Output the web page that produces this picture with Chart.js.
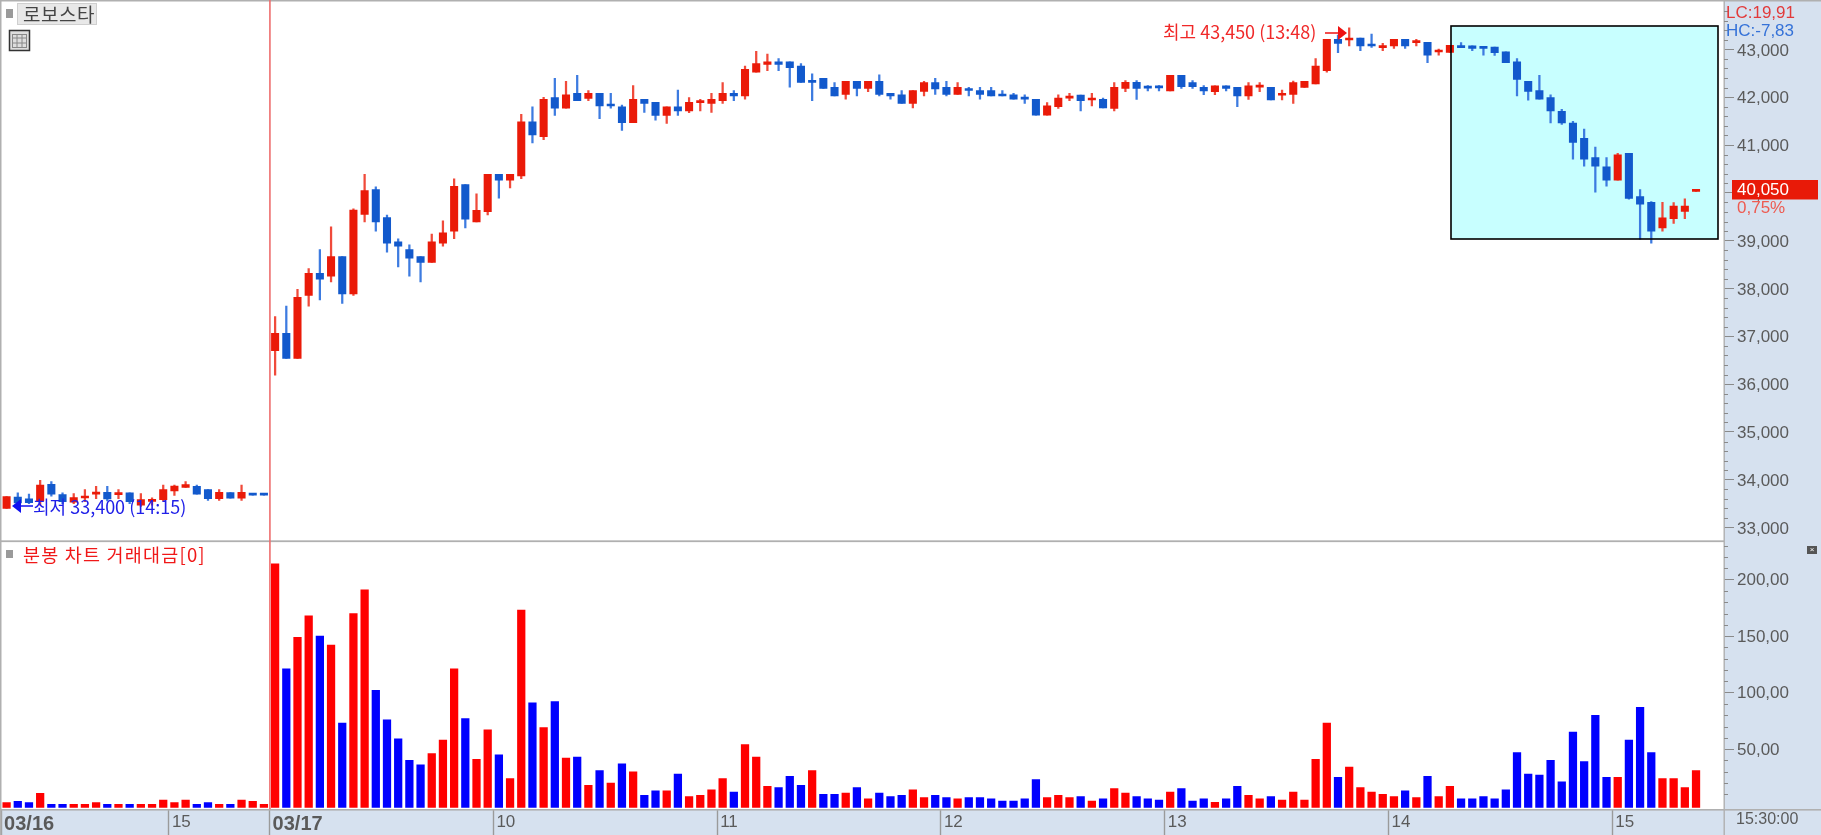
<!DOCTYPE html>
<html><head><meta charset="utf-8">
<style>html,body{margin:0;padding:0;background:#fff;overflow:hidden}canvas{display:block}</style>
<script src="https://cdn.jsdelivr.net/npm/chart.js@4"></script>
</head><body><canvas id="c" width="1821" height="835"></canvas>
<script>
const opens=[33400,33640,33600,33560,33905,33690,33530,33620,33700,33740,33690,33725,33470,33550,33585,33765,33840,33865,33795,33605,33730,33615,33690,33690,
36700,37060,36540,37855,38315,38260,38665,37885,39550,40070,39480,38975,38815,38665,38545,38950,39200,40170,39390,39605,40385,40265,40355,41485,41175,41990,41770,42080,41975,42080,41825,41800,41465,41955,41890,41620,41800,41710,41885,41870,41925,42080,42025,42525,42685,42740,42740,42650,42330,42395,42205,42060,42330,42185,42330,42080,42050,41870,42120,42305,42205,42060,42150,42140,42140,42050,42050,41970,41955,41625,41800,41980,42045,41940,41955,41765,42185,42310,42200,42200,42130,42455,42305,42205,42115,42235,42205,42025,42210,42205,42040,42060,42205,42275,42555,43210,43195,43235,43090,43035,43070,43210,43140,43145,42945,42935,43075,43075,43050,43050,42950,42740,42330,42140,41990,41705,41460,41140,40735,40545,40265,40825,39920,39800,39265,39460,39610,40030];
const closes=[33650,33515,33520,33890,33700,33540,33630,33650,33715,33600,33700,33540,33585,33560,33795,33870,33900,33700,33605,33740,33615,33740,33680,33680,
37060,36540,37815,38315,38195,38665,37885,39640,40045,39390,38950,38885,38635,38545,38975,39165,40135,39450,39635,40385,40265,40385,41485,41210,41955,41770,42050,41925,42080,41815,41815,41465,41955,41870,41620,41800,41710,41890,41905,41955,42080,42025,42580,42705,42740,42685,42615,42310,42310,42185,42025,42330,42185,42330,42060,42025,41870,42140,42305,42175,42060,42205,42140,42060,42025,42025,41960,41960,41625,41820,41980,41990,41925,41980,41775,42205,42310,42185,42190,42195,42455,42220,42220,42130,42235,42185,42025,42235,42220,41940,42050,42305,42330,42650,43210,43125,43235,43070,43070,43070,43210,43070,43150,42880,42955,43085,43035,43020,43020,42930,42720,42370,42120,41960,41715,41460,41055,40705,40555,40265,40795,39885,39765,39200,39475,39725,39725,40040];
const highs=[33650,33725,33700,33990,33960,33725,33710,33795,33865,33865,33795,33725,33710,33625,33890,33890,33960,33890,33795,33795,33730,33890,33690,33690,
37410,37630,37980,38415,38815,39290,38665,39665,40385,40125,39535,39040,38915,38665,39140,39415,40295,40170,39980,40385,40385,40385,41640,41800,41995,42395,42330,42455,42140,42080,42080,41835,42240,41955,41890,41800,42150,41990,41955,42080,42305,42140,42650,42960,42900,42805,42740,42705,42490,42395,42305,42330,42330,42330,42465,42080,42140,42140,42330,42395,42330,42305,42205,42205,42205,42140,42080,42050,41955,41885,42050,42080,42045,42080,41980,42305,42345,42345,42245,42245,42455,42455,42345,42245,42235,42235,42205,42305,42305,42205,42150,42335,42330,42805,43210,43300,43450,43235,43320,43125,43210,43210,43210,43145,43005,43085,43140,43075,43050,43050,42950,42805,42330,42455,42050,41745,41495,41335,40955,40735,40825,40825,40070,39815,39800,39795,39875,40040];
const lows=[33400,33475,33500,33470,33655,33500,33500,33540,33605,33560,33605,33500,33445,33470,33560,33675,33840,33700,33570,33570,33615,33570,33680,33680,
36190,36540,36540,37630,37760,38135,37690,37855,39390,39200,38760,38450,38260,38135,38545,38885,39040,39265,39390,39540,39890,40105,40295,41045,41110,41620,41770,41925,41925,41550,41770,41305,41465,41680,41520,41450,41620,41675,41710,41680,41870,41925,41960,42525,42555,42555,42210,42310,41925,42185,42025,41960,42025,42115,42025,41960,41870,41775,42025,42060,42025,42060,42025,41960,42025,42025,41960,41870,41625,41625,41765,41925,41715,41815,41775,41715,42115,41955,42130,42130,42130,42185,42185,42050,42050,42130,41800,41955,42115,41940,41940,41870,42205,42275,42525,42930,43070,42970,43040,42970,43020,43020,43070,42720,42880,42935,43035,42970,42880,42875,42720,42025,41935,41960,41460,41430,40705,40555,40015,40140,40265,39865,39030,38945,39200,39360,39460,40030];
const volumes=[2.6,3.8,2.6,10.9,1.2,1.2,1.2,1.2,2.6,1.2,1.2,1.2,1.2,1.2,5,2.6,5,1.2,2.6,1.2,1.2,5,3.8,1.2,
214,121,149,168,150,142,73,170,191,102,76,59,40,36,46,58,121,77,41,67,45,24,173,91,69,92,42,43,18,31,20,37,30,9,13,13,28,8,9,14,24,12,54,43,17,16,26,18,31,10,10,11,16,6,11,8,9,14,7,9,7,6,7,7,
6,4,4,6,23,7,9,7,8,4,6,15,11,8,6,5,12,15,4,6,3,6,17,9,6,8,5,12,5,41,73,25,34,16,12,10,8,13,7,26,8,17,6,6,8,6,14,47,28,27,40,21,65,39,80,25,25,58,87,47,24,24,16,31];
const volumeColors="RBBRBBRRRBRBRRRRRBBRBRRR"
 +"RBRRBRBRRB"+"BBBBRRRBRR"+"BRRBRBRBRB"+"RBRBBRBRRR"+"RBRRRBBBRB"+"BRBRBBBRRB"
 +"BRBBBBBBBR"+"RRBRBRRBBB"+"RBBBRBBRRB"+"RRRRRBRRRR"+"RBRBRRBBBB"+"BBBBBBBBBB"+"RBBBRRRR";
const dayLabels={0:"03/16",15:"15",24:"03/17",44:"10",64:"11",84:"12",104:"13",124:"14",144:"15"};
const priceTicks=[33000,34000,35000,36000,37000,38000,39000,40000,41000,42000,43000];
const volumeTicks=[50,100,150,200];
const categories=opens.map((_,i)=>dayLabels[i]||"").concat(["",""]);
const RED="#ea1a08",BLUE="#1259cc",WICK_RED="#f04a3a",WICK_BLUE="#3d7be0";
const FONT='"Liberation Sans","Noto Sans CJK KR",sans-serif';
const KFONT='"Noto Sans CJK KR","Liberation Sans",sans-serif';
const up=i=>closes[i]>=opens[i];
const AXIS="#b0b0b0",PANEL="#d6e1ef",TXT="#5a5a5a";
function arrow(ctx,x0,x1,y,col,hw,hl){const d=x1>x0?1:-1;ctx.strokeStyle=col;ctx.fillStyle=col;ctx.lineWidth=1.5;ctx.beginPath();ctx.moveTo(x0,y);ctx.lineTo(x1-d*hl,y);ctx.stroke();ctx.beginPath();ctx.moveTo(x1,y);ctx.lineTo(x1-d*hl,y-hw);ctx.lineTo(x1-d*hl,y+hw);ctx.closePath();ctx.fill();}
const decor={id:"decor",
beforeDraw(ch){const c=ch.ctx,a=ch.chartArea;c.save();
 c.fillStyle=PANEL;c.fillRect(a.right,0,1821-a.right,835);c.fillRect(0,a.bottom,1821,835-a.bottom);
 c.restore();},
beforeDatasetsDraw(ch){const c=ch.ctx;c.save();
 c.fillStyle="#c8ffff";c.fillRect(1451,26,267,213);
 c.restore();},
afterDatasetsDraw(ch){const c=ch.ctx,a=ch.chartArea,x=ch.scales.x,p=ch.scales.price,v=ch.scales.vol;c.save();
 c.strokeStyle="#000";c.lineWidth=1.6;c.strokeRect(1451,26,267,213);
 c.fillStyle=AXIS;c.fillRect(0,0,1821,1.5);c.fillRect(0,0,1.5,835);
 c.fillRect(0,p.bottom,a.right,1.8);c.fillRect(a.right-.5,0,1.4,835);c.fillRect(0,a.bottom,1821,1.6);
 const sx=(x.getPixelForValue(23)+x.getPixelForValue(24))/2+.4;
 c.fillStyle="#ee6f6f";c.fillRect(sx-.8,0,1.6,a.bottom);
 c.fillStyle="#8a8a8a";
 for(let t=33000;t<=43800;t+=200){if(t%1000===0)continue;c.fillRect(a.right,Math.round(p.getPixelForValue(t)),4,1);}
 for(let t=10;t<=230;t+=10){if(t%50===0)continue;c.fillRect(a.right,Math.round(v.getPixelForValue(t)),4,1);}
 c.fillStyle="#9a9a9a";c.fillRect(6,9,7,9);c.fillRect(6,550,7,8);
 c.fillStyle="#e8e8e8";c.fillRect(17,3,80,22);c.strokeStyle="#cfcfcf";c.lineWidth=1;c.strokeRect(17.5,3.5,79,21);
 c.fillStyle="#444";c.font="19px "+KFONT;c.textBaseline="middle";c.textAlign="left";c.letterSpacing="0.5px";c.fillText("로보스타",23,14.5);
 c.strokeStyle="#333";c.lineWidth=1.5;c.fillStyle="#ddd";c.fillRect(9.5,30.5,20,20);c.strokeRect(9.5,30.5,20,20);
 c.strokeStyle="#888";c.lineWidth=1;c.strokeRect(12.5,34.5,14,13);c.beginPath();[17,22].forEach(q=>{c.moveTo(q,34);c.lineTo(q,48);});c.moveTo(12,38);c.lineTo(27,38);c.moveTo(12,43);c.lineTo(27,43);c.stroke();
 c.fillStyle="#f01818";c.font="18.5px "+KFONT;c.letterSpacing="1.2px";c.fillText("분봉 차트 거래대금[0]",23,555);
 c.letterSpacing="0px";
 c.fillStyle="#555";c.fillRect(1807,546,10,8);c.fillStyle="#fff";c.font="8px "+FONT;c.textAlign="center";c.fillText("×",1812,550);c.textAlign="left";
 c.fillStyle="#f02828";c.font="18px "+KFONT;c.fillText("최고 43,450 (13:48)",1163,32);
 arrow(c,1325,1347,33,"#ee1111",7,9);
 arrow(c,33,12,506,"#1010f0",7,9);
 c.fillStyle="#2020e8";c.font="18px "+KFONT;c.fillText("최저 33,400 (14:15)",33,507);
 c.font="17px "+FONT;
 c.fillStyle="#e23a3a";c.fillText("LC:19,91",1726,13);
 c.fillStyle="#3572d8";c.fillText("HC:-7,83",1726,31);
 c.fillStyle="#e81a08";c.fillRect(1732,180,86,19.5);
 c.fillStyle="#fff";c.fillText("40,050",1737,190);
 c.fillStyle="#ee5a50";c.fillText("0,75%",1737,208);
 c.fillStyle=TXT;c.font="16px "+FONT;c.fillText("15:30:00",1736,820);
 c.restore();}
};
new Chart(document.getElementById("c"),{
 type:"bar",
 data:{labels:categories,datasets:[
  {label:"body",yAxisID:"price",grouped:false,data:opens.map((o,i)=>[o,closes[i]]),backgroundColor:opens.map((_,i)=>up(i)?RED:BLUE),barThickness:7.4,minBarLength:2},
  {label:"wick",yAxisID:"price",grouped:false,data:lows.map((l,i)=>[l,highs[i]]),backgroundColor:lows.map((_,i)=>up(i)?WICK_RED:WICK_BLUE),barThickness:1.6},
  {label:"volume",yAxisID:"vol",grouped:false,base:-1.5,data:volumes,backgroundColor:[...volumeColors].map(k=>k==="R"?"#ff0000":"#0000ff"),barThickness:7.6}
 ]},
 options:{responsive:false,animation:false,events:[],
  layout:{padding:{left:1,top:2,right:0,bottom:0}},
  plugins:{legend:{display:false},tooltip:{enabled:false},title:{display:false}},
  scales:{
   x:{type:"category",offset:true,
    grid:{offset:true,drawOnChartArea:false,drawTicks:true,tickLength:26,tickWidth:1.4,color:"#a8a8a8",
      tickColor:c=>categories[c.index]?"#9a9a9a":"rgba(0,0,0,0)"},
    border:{display:false},
    ticks:{autoSkip:false,maxRotation:0,minRotation:0,align:"start",padding:-23,labelOffset:-2.5,color:TXT,
      font:c=>{const t=categories[c.index]||"";return t.includes("/")?{family:FONT,size:20,weight:"bold"}:{family:FONT,size:17};},
      callback:(_,i)=>categories[i]},
    afterFit(s){s.height=26;s.paddingLeft=s.paddingRight=0;}},
   price:{type:"linear",position:"right",stack:"panes",stackWeight:537,min:32734,max:43990,
    afterBuildTicks(s){s.ticks=priceTicks.map(value=>({value}));},
    grid:{drawOnChartArea:false,tickLength:10,tickColor:"#8a8a8a",tickWidth:1},
    border:{display:false},
    ticks:{autoSkip:false,padding:3,labelOffset:1.5,color:TXT,font:{family:FONT,size:17},callback:v=>v.toLocaleString("en-US")},
    afterFit(s){s.width=97;s.paddingTop=s.paddingBottom=0;}},
   vol:{type:"linear",position:"right",stack:"panes",stackWeight:268,min:-3,max:234.8,
    afterBuildTicks(s){s.ticks=volumeTicks.map(value=>({value}));},
    grid:{drawOnChartArea:false,tickLength:10,tickColor:"#8a8a8a",tickWidth:1},
    border:{display:false},
    ticks:{autoSkip:false,padding:3,labelOffset:1,color:TXT,font:{family:FONT,size:17},callback:v=>v+",00"},
    afterFit(s){s.width=97;s.paddingTop=s.paddingBottom=0;}}
  }},
 plugins:[decor]
});
</script></body></html>
